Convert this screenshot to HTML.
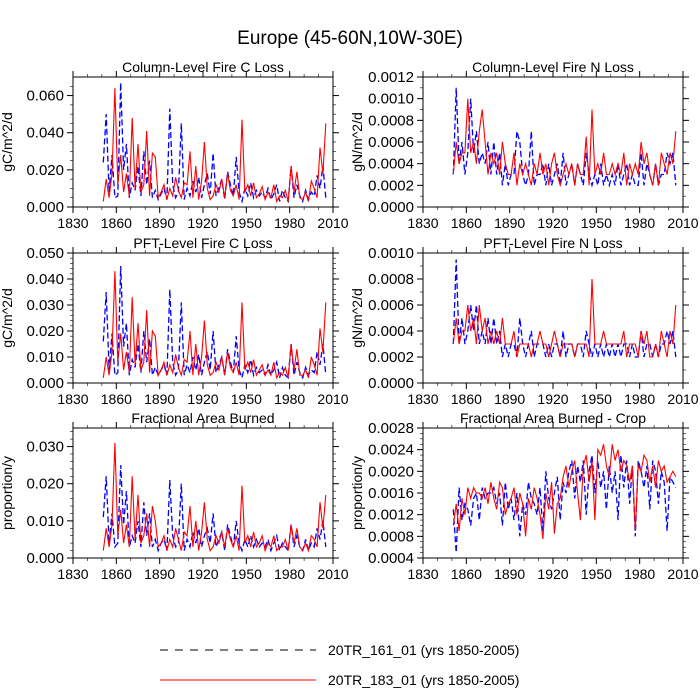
<!DOCTYPE html>
<html><head><meta charset="utf-8"><style>
body{margin:0;background:#fff}
svg{display:block;font-family:"Liberation Sans",sans-serif}
</style></head><body>
<svg id="chart" width="700" height="700" viewBox="0 0 700 700">
<text x="350" y="44" font-size="19" text-anchor="middle">Europe (45-60N,10W-30E)</text>
<g>
<line x1="160" y1="650" x2="316" y2="650" stroke="#000" stroke-width="1" stroke-dasharray="8,7"/>
<text x="328" y="655" font-size="14">20TR_161_01 (yrs 1850-2005)</text>
<line x1="160" y1="680" x2="316" y2="680" stroke="#ff0000" stroke-width="1"/>
<text x="328" y="685" font-size="14">20TR_183_01 (yrs 1850-2005)</text>
</g>
</svg>
<script>
const years = Array.from({length:78},(_, i)=>1851+2*i);
const xTicks = [1830,1860,1890,1920,1950,1980,2010];

const p1Red = [3,15,5,18,64,12,28,8,18,6,48,10,34,8,12,41,6,29,27,5,8,12,4,10,6,16,9,5,
13,12,30,5,22,4,14,35,10,4,6,12,8,15,5,18,9,6,12,4,47,8,12,6,13,5,7,11,
4,8,5,12,3,6,5,9,3,22,8,19,5,4,8,3,14,10,5,32,18,45];
const p1Blue = [24,50,8,28,5,6,67,20,34,5,13,9,22,6,30,12,25,5,9,4,7,10,4,53,12,5,8,45,
4,10,6,14,8,16,5,12,18,7,29,6,10,15,4,19,12,6,27,8,3,10,6,13,5,9,6,8,
5,10,4,7,12,3,9,5,3,22,5,12,6,3,9,4,8,6,17,10,22,5];
const p2Red = [3,6,4,5,5,10,5,6,4,7,9,6,3,5,4,5,3,6,4,3,3,5,2,4,3,4,3,2,
4,3,5,3,4,2,4,5,3,2,3,4,3,4,2,4,3,3,6.5,2,9,3,4,3,5,3,3,4,
3,4,3,5,2,4,3,4,3,6,4,5,3,2,4,2,5,4,3,5,4,7];
const p2Blue = [3,11,4,6,3,5,10,5,7,4,5,4,6,3,6,3,5,2,4,2,3,3,7,6,3,2,3,7,
2,3,3,4,2,4,2,3,4,2,5,2,3,4,2,4,3,2,5,3,2,3,2,4,2,3,2,3,
2,4,2,3,4,2,3,2,2,5,2,4,3,2,4,2,3,3,5,4,5,2];
const p3Red = [2,10,3,12,43,8,19,5,12,4,33,7,23,5,8,28,4,20,18,3,5,8,3,7,4,11,6,3,
9,8,20,3,15,3,10,24,7,3,4,8,5,10,3,12,6,4,8,3,31,5,8,4,9,3,5,7,
3,5,3,8,2,4,3,6,2,15,5,13,3,3,5,2,10,7,3,21,12,31];
const p3Blue = [16,35,5,19,3,4,45,14,23,3,9,6,15,4,20,8,17,3,6,3,5,7,3,36,8,3,5,31,
3,7,4,10,5,11,3,8,12,5,20,4,7,10,3,13,8,4,18,5,2,7,4,9,3,6,4,5,
3,7,3,5,8,2,6,3,2,15,3,8,4,2,6,3,5,4,12,7,15,3];
const p4Red = [3,5,3,4,4,6,4,5,3,6,4,5,3,4,3,4,3,5,3,3,3,4,2,3,3,3,3,2,
3,3,4,3,3,2,3,4,3,2,3,3,3,3,2,3,3,3,3,2,8,3,3,3,4,3,3,3,
3,3,3,4,2,3,3,3,2,4,3,4,2,2,3,2,4,3,2,4,3,6];
const p4Blue = [3,9.5,3,5,3,4,6,4,6,3,4,3,5,3,5,3,4,2,3,2,3,3,2,5,3,2,3,4,
2,3,3,3,2,3,2,3,3,2,4,2,3,3,2,3,3,2,4,3,2,3,2,3,2,3,2,3,
2,3,2,3,3,2,3,2,2,4,2,3,3,2,3,2,3,3,4,3,4,2];
const p5Red = [2,8,3,9,31,6,13,4,9,3,22,5,17,4,6,12,3,14,10,3,4,6,2,5,3,8,5,2,
7,6,14,3,10,2,7,15,5,2,3,6,4,7,3,8,5,3,6,2,19.5,4,6,3,7,3,4,6,
2,4,3,6,2,3,3,5,2,9,4,8,3,2,4,2,6,5,3,15,8,17];
const p5Blue = [11,22,4,12,3,4,25,9,18,3,6,4,10,3,15,6,12,3,5,2,4,5,2,21,6,3,4,20,
2,5,3,7,4,8,3,6,8,4,12,3,5,7,2,9,6,3,10,4,2,5,3,6,3,5,3,4,
3,5,2,4,6,2,4,3,2,9,3,6,3,2,5,2,4,3,8,5,10,3];
const p6Red = [10,14,9,15,12,17,15,17,16,16,15,17,14,18,15,13,18,17,12,14,15,17,12,16,14,8,15,13,
17,15,12,7.5,16,13,18,8.5,14,15,19,21,17,20,22,16,11,21,23,18,22,11,24,23,25,21,19,25,
22,24,20,22,21,18,21,9,21,20,23,22,18,21,17,22,20,21,18,19,20,19];
const p6Blue = [13,5,17,11,14,13,10,15,16,11,17,15,16,16,17,14,16,10,18,13,15,11,16,8,14,12,18,15,
14,12,17,9,20,15,13,16,19,11,18,16,20,22,15,21,18,22,12,20,23,16,22,17,20,13,21,16,
20,11,23,17,22,14,21,8,22,20,17,21,13,22,20,14,20,18,9,19,18,17];

const yTicks1 = ["0.000","0.020","0.040","0.060"];
const yTicks2 = ["0.0000","0.0002","0.0004","0.0006","0.0008","0.0010","0.0012"];
const yTicks3 = ["0.000","0.010","0.020","0.030","0.040","0.050"];
const yTicks4 = ["0.0000","0.0002","0.0004","0.0006","0.0008","0.0010"];
const yTicks5 = ["0.000","0.010","0.020","0.030"];
const yTicks6 = ["0.0004","0.0008","0.0012","0.0016","0.0020","0.0024","0.0028"];

const panels = [
 {name:'column-c-loss',title:'Column-Level Fire C Loss',ytitle:'gC/m^2/d',x0:73,y0:77,scale:1e-3,ymin:0,ymax:0.07,minor:0.005,ticks:yTicks1,red:p1Red,blue:p1Blue},
 {name:'column-n-loss',title:'Column-Level Fire N Loss',ytitle:'gN/m^2/d',x0:423,y0:77,scale:1e-4,ymin:0,ymax:0.0012,minor:0.0001,ticks:yTicks2,red:p2Red,blue:p2Blue},
 {name:'pft-c-loss',title:'PFT-Level Fire C Loss',ytitle:'gC/m^2/d',x0:73,y0:253,scale:1e-3,ymin:0,ymax:0.05,minor:0.002,ticks:yTicks3,red:p3Red,blue:p3Blue},
 {name:'pft-n-loss',title:'PFT-Level Fire N Loss',ytitle:'gN/m^2/d',x0:423,y0:253,scale:1e-4,ymin:0,ymax:0.001,minor:0.0001,ticks:yTicks4,red:p4Red,blue:p4Blue},
 {name:'area-burned',title:'Fractional Area Burned',ytitle:'proportion/y',x0:73,y0:428,scale:1e-3,ymin:0,ymax:0.035,minor:0.002,ticks:yTicks5,red:p5Red,blue:p5Blue},
 {name:'area-burned-crop',title:'Fractional Area Burned - Crop',ytitle:'proportion/y',x0:423,y0:428,scale:1e-4,ymin:0.0004,ymax:0.0028,minor:0.0001,ticks:yTicks6,red:p6Red,blue:p6Blue}
];
const W=260,H=130,NS='http://www.w3.org/2000/svg';
const svg=document.getElementById('chart');
function mk(tag,attrs,parent){const e=document.createElementNS(NS,tag);for(const k in attrs)e.setAttribute(k,attrs[k]);parent.appendChild(e);return e;}
panels.forEach(p=>{
 const g=mk('g',{},svg);
 
 
 const xs=v=>p.x0+(v-1830)/180*W;
 const ys=v=>p.y0+H-(v-p.ymin)/(p.ymax-p.ymin)*H;
 const t=mk('text',{x:p.x0+W/2,y:p.y0-5,'font-size':14,'text-anchor':'middle'},g);t.textContent=p.title;
 
 
 const yt=mk('text',{x:0,y:0,'font-size':14,'text-anchor':'middle',transform:`translate(${p.x0-61},${p.y0+H/2}) rotate(-90)`},g);yt.textContent=p.ytitle;
 
 
 const nMin=Math.round((p.ymax-p.ymin)/p.minor);
 for(let i=1;i<nMin;i++){const y=ys(p.ymin+i*p.minor);
  mk('line',{x1:p.x0,x2:p.x0-3,y1:y,y2:y,stroke:'#000','stroke-width':0.6},g);
  mk('line',{x1:p.x0+W,x2:p.x0+W+3,y1:y,y2:y,stroke:'#000','stroke-width':0.6},g);}
 p.ticks.forEach(s=>{const y=ys(parseFloat(s));
  mk('line',{x1:p.x0,x2:p.x0-6,y1:y,y2:y,stroke:'#000','stroke-width':1},g);
  mk('line',{x1:p.x0+W,x2:p.x0+W+6,y1:y,y2:y,stroke:'#000','stroke-width':1},g);
  const l=mk('text',{x:p.x0-9,y:y+5,'font-size':15,'text-anchor':'end'},g);l.textContent=s;
  
  });
 for(let yr=1840;yr<2010;yr+=10){if((yr-1830)%30===0)continue;const x=xs(yr);
  mk('line',{x1:x,x2:x,y1:p.y0+H,y2:p.y0+H+3,stroke:'#000','stroke-width':0.6},g);
  mk('line',{x1:x,x2:x,y1:p.y0,y2:p.y0-3,stroke:'#000','stroke-width':0.6},g);}
 xTicks.forEach(yr=>{const x=xs(yr);
  mk('line',{x1:x,x2:x,y1:p.y0+H,y2:p.y0+H+6,stroke:'#000','stroke-width':1},g);
  mk('line',{x1:x,x2:x,y1:p.y0,y2:p.y0-6,stroke:'#000','stroke-width':1},g);
  const l=mk('text',{x:x,y:p.y0+H+21,'font-size':14,'text-anchor':'middle'},g);l.textContent=yr;
  
  });
 const path=arr=>arr.map((v,i)=>(i?'L':'M')+xs(years[i]).toFixed(1)+','+ys(v*p.scale).toFixed(1)).join('');
 const b=mk('path',{d:path(p.blue),fill:'none',stroke:'#0000ff','stroke-width':1.3,'stroke-dasharray':'6,3'},g);
 
 
 const r=mk('path',{d:path(p.red),fill:'none',stroke:'#ff0000','stroke-width':1.1},g);
 
 
 const box=mk('rect',{x:p.x0,y:p.y0,width:W,height:H,fill:'none',stroke:'#000','stroke-width':1},g);
 
 
});
</script>
</body></html>
